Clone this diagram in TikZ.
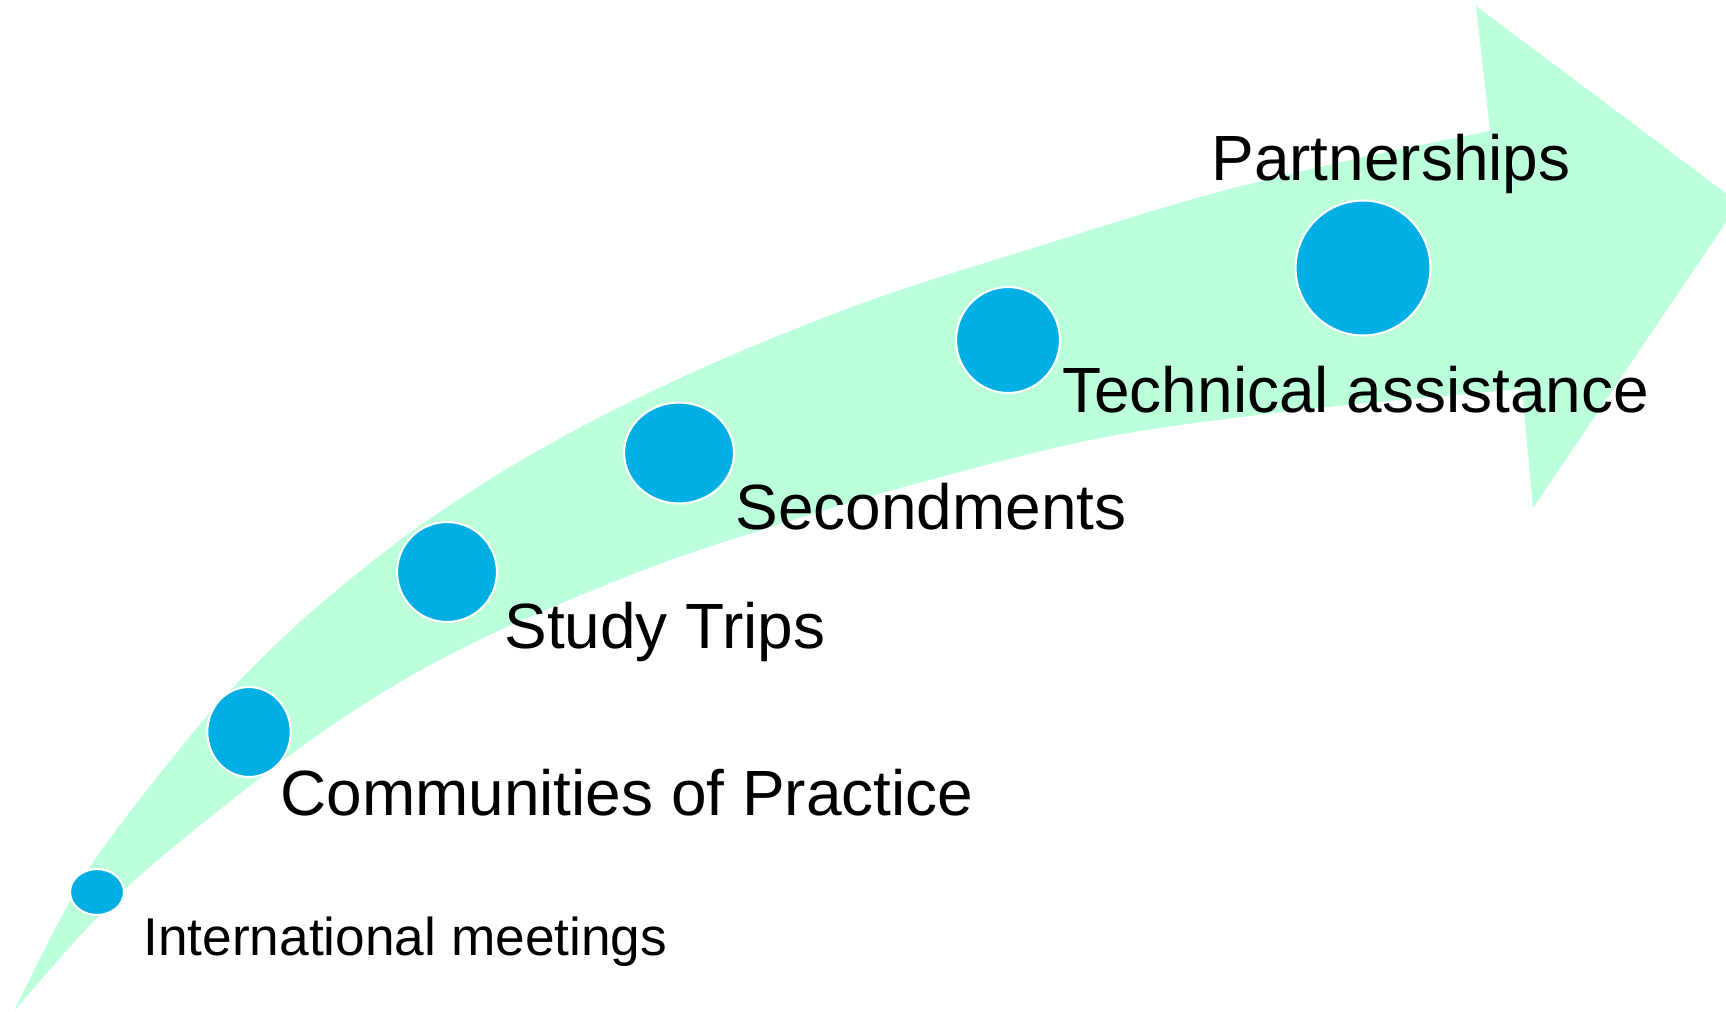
\documentclass[tikz,border=0pt]{standalone}
\usepackage{fontspec}
\setmainfont{Liberation Sans}
\usetikzlibrary{shapes.geometric}
\definecolor{mint}{RGB}{187,255,219}
\definecolor{dotblue}{RGB}{2,175,229}
\begin{document}
\begin{tikzpicture}[x=0.02cm,y=-0.02cm,
  dot/.style={ellipse,fill=dotblue,draw=white,line width=1.2pt,inner sep=0pt},
  biglabel/.style={anchor=base west,inner sep=0pt,font=\fontsize{36.4}{40}\selectfont},
  smalllabel/.style={anchor=base west,inner sep=0pt,font=\fontsize{30.3}{34}\selectfont}]
\useasboundingbox (0,0) rectangle (1726,1011);
\clip (0,0) rectangle (1726,1011);
% curved arrow: upper edge, head, lower edge back to the tail
\fill[mint] plot[smooth,tension=0.5] coordinates {(15,1009) (90,867) (208,715) (300,622) (400,540) (500,473) (600,417) (700,369) (800,327) (900,290) (1033,248) (1200,197) (1350,160) (1490,131)}
  -- (1476,6) -- (1739,203) -- (1533,508) -- (1522,389)
  -- plot[smooth,tension=0.5] coordinates {(1522,389) (1300,410) (1100,438) (900,488) (733,539) (633,574) (500,630) (400,682) (290,755) (127,887) (15,1010)}
  -- cycle;
% stages along the arrow
\node[dot,minimum width=1.08cm,minimum height=0.92cm] (c1) at (97,892) {};
\node[dot,minimum width=1.67cm,minimum height=1.80cm] (c2) at (249,732) {};
\node[dot,minimum width=2.0cm,minimum height=2.0cm] (c3) at (447,572) {};
\node[dot,minimum width=2.2cm,minimum height=2.02cm] (c4) at (679,453) {};
\node[dot,minimum width=2.08cm,minimum height=2.12cm] (c5) at (1008,340) {};
\node[dot,minimum width=2.7cm,minimum height=2.7cm] (c6) at (1363,268) {};
% labels
\node[smalllabel] (l1) at (143,955) {International meetings};
\node[biglabel] (l2) at (280,815) {Communities of Practice};
\node[biglabel] (l3) at (504,648) {Study Trips};
\node[biglabel] (l4) at (735,529) {Secondments};
\node[biglabel] (l5) at (1062,412) {Technical assistance};
\node[biglabel] (l6) at (1211,180) {Partnerships};
\end{tikzpicture}
\end{document}
